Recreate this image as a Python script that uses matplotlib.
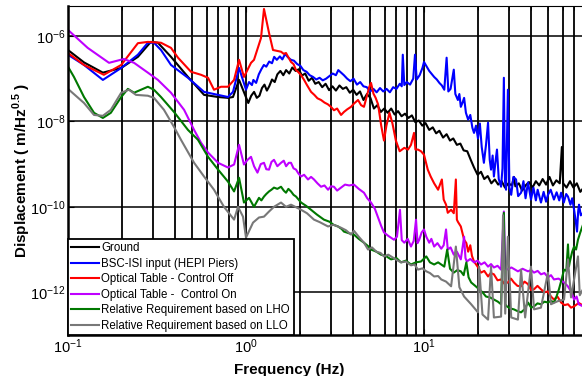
import numpy as np
import matplotlib
matplotlib.use("Agg")
import matplotlib.pyplot as plt
from matplotlib.ticker import LogLocator, NullFormatter, NullLocator

plt.rcParams['font.family'] = ['Liberation Sans', 'DejaVu Sans']
plt.rcParams['mathtext.fontset'] = 'custom'
plt.rcParams['mathtext.rm'] = 'Liberation Sans'
plt.rcParams['mathtext.bf'] = 'Liberation Sans:bold'

# frequencies (Hz) and log10 of displacement (m/Hz^0.5)
ground_f = [0.1, 0.123, 0.157, 0.199, 0.247, 0.292, 0.32, 0.379, 0.472, 0.581, 0.697, 0.792,
            0.845, 0.914, 1.03, 1.07, 1.11, 1.15, 1.19, 1.23, 1.27, 1.31, 1.35, 1.40, 1.45,
            1.50, 1.56, 1.62, 1.68, 1.75, 1.82, 1.90, 1.98, 2.06, 2.15, 2.25, 2.35, 2.45, 2.56,
            2.68, 2.80, 2.93, 3.06, 3.20, 3.35, 3.50, 3.66, 3.83, 4.00, 4.18, 4.37, 4.57, 4.78,
            5.00, 5.23, 5.47, 5.72, 5.98, 6.25, 6.54, 6.84, 7.15, 7.48, 7.82, 8.18, 8.55, 8.94,
            9.35, 9.78, 10.2, 10.7, 11.2, 11.7, 12.2, 12.8, 13.4, 14.0, 14.6, 15.3, 16.0, 16.7,
            17.5, 18.3, 19.1, 20.0, 20.9, 21.8, 22.8, 23.9, 25.0, 26.1, 27.3, 28.5, 29.8, 31.2,
            32.0, 32.6, 34.1, 35.6, 37.2, 38.9, 40.7, 42.5, 44.4, 46.4, 48.5, 50.7, 53.0, 55.4,
            57.9, 59.5, 60.5, 63.2, 66.1, 69.1, 72.2, 75.5, 78.9, 85]
ground_log = [-6.33, -6.62, -6.86, -6.75, -6.49, -6.14, -6.16, -6.49, -6.96, -7.38, -7.43, -7.45,
              -7.43, -7.03, -7.57, -7.40, -7.31, -7.45, -7.40, -7.22, -7.14, -7.28, -7.18, -7.02,
              -7.08, -6.90, -6.82, -6.92, -6.80, -6.88, -6.74, -6.82, -6.78, -6.93, -6.88, -7.05,
              -6.98, -7.12, -7.08, -7.20, -7.12, -7.27, -7.18, -7.28, -7.16, -7.24, -7.20, -7.33,
              -7.26, -7.38, -7.30, -7.50, -7.36, -7.45, -7.70, -7.62, -7.78, -7.70, -7.80, -7.70,
              -7.84, -7.76, -7.88, -7.82, -7.92, -7.86, -8.02, -7.98, -8.10, -8.04, -8.20, -8.14,
              -8.28, -8.22, -8.38, -8.30, -8.45, -8.40, -8.55, -8.52, -8.68, -8.70, -8.90, -9.08,
              -9.25, -9.18, -9.35, -9.28, -9.45, -9.36, -9.48, -9.40, -9.55, -9.45, -9.50, -9.30,
              -9.52, -9.45, -9.62, -9.50, -9.42, -9.55, -9.40, -9.50, -9.35, -9.48, -9.30, -9.50,
              -9.38, -9.45, -8.60, -9.45, -9.55, -9.40, -9.55, -9.45, -9.65, -9.55, -9.60]

bsc_f = [0.1, 0.123, 0.157, 0.199, 0.247, 0.281, 0.304, 0.333, 0.379, 0.472, 0.581, 0.697,
         0.792, 0.845, 0.914, 1.0, 1.04, 1.08, 1.10, 1.14, 1.18, 1.22, 1.26, 1.30, 1.35, 1.40,
         1.44, 1.49, 1.55, 1.60, 1.66, 1.72, 1.79, 1.86, 1.94, 2.02, 2.10, 2.19, 2.28, 2.38,
         2.48, 2.59, 2.70, 2.82, 2.94, 3.07, 3.20, 3.30, 3.42, 3.55, 3.70, 3.86, 4.02, 4.20,
         4.38, 4.57, 4.77, 4.98, 5.20, 5.42, 5.66, 5.90, 6.16, 6.43, 6.71, 7.00, 7.31, 7.50,
         7.6, 7.75, 8.0, 8.35, 8.70, 8.9, 9.1, 9.45, 9.80, 10.0, 10.3, 10.7, 11.0, 11.4, 11.8,
         12.2, 12.6, 13.0, 13.4, 13.7, 14.1, 14.7, 15.0, 15.5, 15.8, 16.1, 16.5, 16.8, 17.2,
         17.7, 18.2, 18.7, 19.1, 19.6, 20.1, 20.6, 21.1, 21.7, 22.3, 22.9, 23.4, 23.8, 24.3,
         24.7, 25.2, 25.7, 26.3, 27.1, 27.6, 28.1, 28.5, 28.9, 29.6, 30.2, 30.9, 31.8, 32.9,
         33.8, 35.1, 36.2, 37.2, 38.4, 39.9, 41.2, 42.5, 43.5, 45.4, 47.0, 48.5, 49.7, 51.5,
         53.7, 55.6, 57.5, 58.9, 61.0, 62.9, 64.4, 66.5, 68.0, 69.7, 71.0, 72.4, 73.5, 74.3,
         76.0, 78.2, 81, 85]
bsc_log = [-6.44, -6.68, -7.03, -6.75, -6.44, -6.16, -6.16, -6.33, -6.68, -6.98, -7.31, -7.38,
           -7.43, -7.31, -6.75, -7.26, -7.08, -7.15, -7.03, -7.10, -6.90, -6.78, -6.68, -6.72,
           -6.60, -6.64, -6.49, -6.56, -6.48, -6.55, -6.42, -6.50, -6.56, -6.58, -6.66, -6.70,
           -6.80, -6.84, -6.92, -6.96, -7.02, -6.98, -7.04, -7.00, -6.94, -6.88, -6.92, -6.80,
           -6.86, -6.92, -7.00, -7.06, -7.00, -7.14, -7.08, -7.18, -7.20, -7.30, -7.24, -7.32,
           -7.22, -7.30, -7.24, -7.32, -7.20, -7.24, -7.12, -7.18, -6.44, -7.15, -7.08, -7.14,
           -7.00, -6.44, -7.02, -6.92, -6.75, -6.61, -6.70, -6.82, -6.88, -6.96, -7.02, -7.10,
           -7.16, -7.26, -6.51, -7.30, -7.24, -6.79, -7.36, -7.50, -7.36, -7.66, -7.55, -7.45,
           -7.80, -7.96, -7.85, -8.15, -8.27, -8.10, -8.40, -8.05, -8.60, -8.97, -8.55, -8.03,
           -8.90, -9.13, -8.80, -9.29, -8.95, -8.66, -9.35, -9.53, -9.10, -6.98, -9.40, -9.60,
           -7.26, -9.55, -9.72, -9.30, -9.36, -9.75, -9.67, -9.40, -9.80, -9.43, -9.83, -9.55,
           -9.85, -9.60, -9.90, -9.65, -9.88, -9.72, -9.60, -9.83, -9.66, -9.85, -9.67, -9.90,
           -9.70, -9.76, -9.95, -9.80, -10.07, -10.30, -10.58, -10.10, -9.95, -10.20, -10.14,
           -9.95, -10.05]

off_f = [0.1, 0.123, 0.159, 0.199, 0.247, 0.281, 0.333, 0.379, 0.415, 0.491, 0.559, 0.612,
         0.661, 0.724, 0.792, 0.857, 0.914, 0.974, 1.067, 1.109, 1.214, 1.262, 1.347, 1.418,
         1.573, 1.63, 1.678, 1.73, 1.79, 1.85, 1.91, 1.96, 2.04, 2.12, 2.20, 2.32, 2.42, 2.52,
         2.64, 2.76, 2.88, 3.0, 3.12, 3.25, 3.42, 3.55, 3.70, 3.89, 4.05, 4.26, 4.43, 4.60,
         4.78, 4.92, 5.04, 5.20, 5.35, 5.52, 5.75, 5.96, 6.15, 6.40, 6.65, 6.95, 7.3, 7.75,
         8.13, 8.45, 8.79, 8.95, 9.25, 9.62, 10.0, 10.5, 10.9, 11.4, 12.0, 12.6, 12.9, 13.3,
         13.6, 14.2, 14.7, 15.1, 15.3, 15.5, 16.1, 16.8, 17.3, 17.7, 18.2, 18.6, 19.1, 20.0,
         20.9, 21.8, 22.9, 23.7, 24.7, 25.9, 27.1, 28.3, 29.6, 30.8, 32.0, 33.5, 35.1, 36.7,
         38.4, 40.0, 41.5, 43.4, 45.4, 47.5, 49.7, 51.7, 53.7, 56.2, 58.9, 61.6, 64.4, 67.0,
         69.7, 74, 78.2, 85]
off_log = [-6.40, -6.68, -6.91, -6.68, -6.17, -6.14, -6.16, -6.28, -6.51, -6.84, -6.91, -6.98,
           -7.26, -7.19, -7.19, -7.03, -6.56, -6.96, -6.63, -6.56, -6.05, -5.37, -5.93, -6.33,
           -6.37, -6.42, -6.40, -6.50, -6.61, -6.66, -6.80, -6.84, -6.92, -7.03, -7.15, -7.31,
           -7.38, -7.46, -7.50, -7.56, -7.60, -7.66, -7.74, -7.70, -7.85, -7.78, -7.72, -7.66,
           -7.58, -7.50, -7.62, -7.66, -7.40, -7.20, -7.10, -7.35, -7.45, -7.60, -8.10, -8.45,
           -8.10, -7.80, -8.05, -8.45, -8.70, -8.62, -8.66, -8.55, -8.27, -8.66, -8.66, -8.70,
           -8.78, -9.13, -9.29, -9.45, -9.60, -9.36, -9.83, -9.95, -10.14, -10.07, -10.15, -9.36,
           -10.30, -10.35, -10.46, -10.77, -10.85, -11.05, -10.90, -11.15, -11.28, -11.40,
           -11.54, -11.50, -11.63, -11.55, -11.58, -11.72, -11.70, -11.80, -11.77, -11.68,
           -11.77, -11.85, -11.86, -11.75, -11.81, -11.95, -11.93, -11.85, -11.93, -12.00,
           -11.98, -12.10, -12.17, -12.10, -12.24, -12.30, -12.28, -12.36, -12.33, -12.25,
           -12.31, -12.28]

on_f = [0.1, 0.129, 0.17, 0.206, 0.235, 0.281, 0.32, 0.379, 0.449, 0.511, 0.559, 0.612, 0.697,
        0.792, 0.857, 0.914, 0.974, 1.02, 1.067, 1.11, 1.16, 1.21, 1.262, 1.30, 1.347, 1.39,
        1.436, 1.50, 1.573, 1.63, 1.68, 1.74, 1.79, 1.85, 1.91, 1.97, 2.04, 2.12, 2.23, 2.32,
        2.41, 2.52, 2.64, 2.76, 2.89, 3.0, 3.12, 3.25, 3.42, 3.60, 3.80, 4.04, 4.30, 4.6, 4.8,
        5.04, 5.3, 5.52, 5.75, 5.96, 6.3, 6.78, 7.05, 7.33, 7.5, 7.75, 8.1, 8.45, 8.75, 9.02,
        9.2, 9.4, 9.7, 10.0, 10.3, 10.7, 11.0, 11.4, 11.9, 12.5, 12.9, 13.3, 13.6, 14.1, 14.7,
        15.3, 16.1, 16.8, 17.1, 17.4, 18.2, 19.1, 20.0, 20.9, 21.9, 22.9, 23.8, 24.7, 25.9,
        27.1, 28.1, 28.6, 29.2, 31.0, 33.7, 35.8, 38.4, 40.0, 41.5, 43.5, 45.4, 47.5, 49.7,
        51.7, 53.7, 57, 61.2, 64, 67, 69.7, 72, 74, 78.2, 85]
on_log = [-5.86, -6.28, -6.63, -6.54, -6.63, -6.86, -7.03, -7.33, -7.73, -8.20, -8.50, -8.73,
          -8.97, -9.08, -9.01, -8.55, -9.01, -8.90, -8.83, -9.05, -9.20, -9.00, -8.97, -9.12,
          -9.13, -8.95, -8.90, -9.05, -8.97, -8.92, -9.05, -8.97, -8.97, -9.10, -9.13, -9.22,
          -9.29, -9.25, -9.36, -9.30, -9.36, -9.45, -9.53, -9.50, -9.60, -9.52, -9.53, -9.62,
          -9.55, -9.48, -9.50, -9.48, -9.58, -9.67, -9.80, -9.90, -10.05, -10.25, -10.45,
          -10.60, -10.68, -10.77, -10.70, -10.07, -10.78, -10.84, -10.75, -10.93, -10.80,
          -10.30, -10.85, -10.77, -10.60, -10.53, -10.70, -10.84, -10.75, -10.93, -10.85,
          -10.98, -10.90, -10.53, -11.0, -10.95, -11.12, -11.05, -11.23, -10.70, -11.20, -11.28,
          -11.22, -11.30, -11.26, -11.35, -11.30, -11.40, -11.34, -11.42, -11.38, -11.47,
          -10.11, -11.42, -11.47, -11.42, -11.51, -11.45, -11.51, -11.48, -11.54, -11.50,
          -11.58, -11.55, -11.65, -11.60, -11.70, -11.68, -11.77, -11.85, -11.98, -12.17,
          -12.10, -12.28, -12.33, -12.17]

lho_f = [0.1, 0.108, 0.123, 0.14, 0.157, 0.174, 0.199, 0.217, 0.235, 0.281, 0.304, 0.333,
         0.394, 0.472, 0.537, 0.612, 0.697, 0.792, 0.857, 0.914, 0.974, 1.04, 1.109, 1.183,
         1.22, 1.262, 1.30, 1.347, 1.39, 1.436, 1.50, 1.573, 1.63, 1.678, 1.73, 1.79, 1.85,
         1.91, 2.04, 2.18, 2.32, 2.50, 2.74, 2.95, 3.1, 3.29, 3.45, 3.55, 3.8, 4.04, 4.3, 4.6,
         4.85, 5.04, 5.4, 5.73, 6.1, 6.53, 7.0, 7.43, 7.9, 8.45, 9.0, 9.62, 10.3, 10.8, 11.4,
         12.0, 12.5, 13.0, 13.5, 14.0, 14.7, 15.4, 16.1, 16.7, 17.3, 17.8, 18.4, 19.4, 20.4,
         21.3, 22.3, 23.5, 24.7, 26.0, 27.1, 28.1, 28.6, 29.2, 30.6, 32.0, 33.5, 35.1, 36.7,
         38.4, 40, 41.5, 43.4, 45.4, 47.5, 49.7, 51.7, 53.7, 55.5, 57.3, 59.3, 61.2, 63, 64.4,
         65.2, 66, 68, 69.7, 71.5, 73.3, 75.5, 78.2, 85]
lho_log = [-6.72, -6.96, -7.43, -7.80, -7.92, -7.80, -7.43, -7.24, -7.33, -7.19, -7.26, -7.43,
           -7.78, -8.20, -8.43, -8.83, -9.13, -9.41, -9.64, -9.32, -9.90, -9.79, -10.0, -9.79,
           -9.85, -9.76, -9.70, -9.64, -9.60, -9.55, -9.58, -9.53, -9.62, -9.67, -9.58, -9.64,
           -9.72, -9.76, -9.90, -9.98, -10.07, -10.18, -10.30, -10.35, -10.42, -10.46, -10.52,
           -10.58, -10.62, -10.65, -10.75, -10.84, -10.92, -11.0, -11.05, -11.12, -11.15,
           -11.23, -11.20, -11.30, -11.26, -11.35, -11.30, -11.28, -11.16, -11.30, -11.35,
           -11.30, -11.35, -11.40, -11.0, -11.45, -11.54, -11.48, -11.51, -11.60, -11.3, -11.65,
           -11.77, -11.85, -11.93, -12.0, -12.10, -12.12, -12.17, -12.22, -12.28, -10.14,
           -12.28, -12.33, -12.38, -12.40, -12.44, -12.47, -12.40, -12.24, -12.36, -12.33,
           -12.26, -12.28, -12.22, -12.24, -12.20, -12.24, -12.10, -11.93, -11.70, -11.47,
           -11.5, -10.88, -11.40, -11.28, -11.05, -10.93, -11.0, -10.77, -10.60, -10.42, -10.18]

llo_f = [0.1, 0.123, 0.14, 0.157, 0.174, 0.199, 0.22, 0.241, 0.281, 0.304, 0.346, 0.394,
         0.431, 0.511, 0.581, 0.661, 0.752, 0.857, 0.902, 0.962, 1.0, 1.095, 1.183, 1.262,
         1.347, 1.436, 1.573, 1.678, 1.79, 2.04, 2.2, 2.41, 2.6, 2.89, 3.1, 3.42, 3.65, 3.89,
         4.04, 4.3, 4.6, 4.85, 5.1, 5.4, 5.7, 5.96, 6.3, 6.7, 7.0, 7.43, 7.9, 8.45, 8.85, 9.25,
         9.8, 10.3, 10.8, 11.4, 12.0, 12.5, 13.3, 14.2, 15.1, 15.8, 16.8, 18.4, 20.1, 20.4,
         21.3, 22.9, 23.8, 24.7, 27.1, 27.8, 28.6, 29.6, 30.9, 33.7, 35.1, 37, 39.9, 41.5, 45.4,
         49.7, 51.7, 56.3, 61.2, 64.4, 67, 73.3, 75, 78.2, 85]
llo_log = [-7.24, -7.57, -7.85, -7.87, -7.73, -7.33, -7.26, -7.38, -7.40, -7.45, -7.73, -8.13,
           -8.43, -8.97, -9.29, -9.60, -10.0, -10.30, -10.0, -10.23, -10.72, -10.37, -10.25,
           -10.23, -10.11, -10.0, -9.90, -10.0, -9.95, -10.07, -10.15, -10.30, -10.36, -10.46,
           -10.42, -10.49, -10.55, -10.65, -10.56, -10.70, -10.84, -11.0, -10.95, -11.05, -11.08,
           -11.16, -11.12, -11.19, -11.24, -11.30, -11.28, -11.37, -11.35, -11.47, -11.44,
           -11.51, -11.55, -11.63, -11.62, -11.70, -11.75, -11.86, -10.93, -11.88, -12.10,
           -12.28, -12.47, -11.40, -12.52, -12.64, -11.40, -12.59, -12.57, -10.2, -12.5, -10.70,
           -12.59, -12.64, -11.47, -12.59, -11.40, -12.40, -12.36, -11.54, -12.28, -12.21,
           -12.17, -11.23, -12.12, -11.16, -12.07, -11.93, -11.81]

series = [
    ("Ground", ground_f, ground_log, "#000000"),
    ("BSC-ISI input (HEPI Piers)", bsc_f, bsc_log, "#0000ff"),
    ("Optical Table - Control Off", off_f, off_log, "#ff0000"),
    ("Optical Table -  Control On", on_f, on_log, "#bf00ff"),
    ("Relative Requirement based on LHO", lho_f, lho_log, "#007800"),
    ("Relative Requirement based on LLO", llo_f, llo_log, "#787878"),
]

fig = plt.figure(figsize=(5.82, 3.76), dpi=100)
# the axes run on past the right edge of the picture, as in the original crop
ax = fig.add_axes([68 / 582, 41 / 376, 534 / 582, 329 / 376])

for label, f, lg, c in series:
    ax.plot(f, 10.0 ** np.array(lg), color=c, lw=1.5, label=label)

ax.set_xscale("log")
ax.set_yscale("log")
ax.set_xlim(0.1, 100)
ax.set_ylim(1e-13, 10 ** -5.3)

ax.set_xticks([0.1, 1, 10])
ax.xaxis.set_minor_locator(LogLocator(base=10, subs=np.arange(2, 10)))
ax.xaxis.set_minor_formatter(NullFormatter())
ax.set_yticks([1e-12, 1e-10, 1e-8, 1e-6])
ax.yaxis.set_minor_locator(NullLocator())

ax.set_axisbelow(True)
ax.grid(True, which="both", axis="x", color="k", lw=1.3)
ax.grid(True, which="major", axis="y", color="k", lw=1.1)
ax.tick_params(which="both", direction="in", top=True, labelsize=10.5, pad=2)
ax.tick_params(which="major", length=4)
ax.tick_params(which="minor", length=3)
for side in ["left", "bottom"]:
    ax.spines[side].set_linewidth(1.8)

ax.set_xlabel("Frequency (Hz)", fontsize=11, fontweight="bold")
ax.xaxis.set_label_coords(0.415, -0.085)
ax.set_ylabel(r"Displacement ( m/Hz$^{\mathbf{0.5}}$ )", fontsize=11, fontweight="bold")
ax.yaxis.set_label_coords(-0.066, 0.5)

leg = ax.legend(loc="lower left", fontsize=8.3, frameon=True, fancybox=False,
                borderaxespad=0, handlelength=2.4, handletextpad=0.2, labelspacing=0.3,
                borderpad=0.3)
leg.get_frame().set_edgecolor("k")
leg.get_frame().set_linewidth(1.3)
leg.get_frame().set_alpha(1)

fig.savefig("out.png", dpi=100)
